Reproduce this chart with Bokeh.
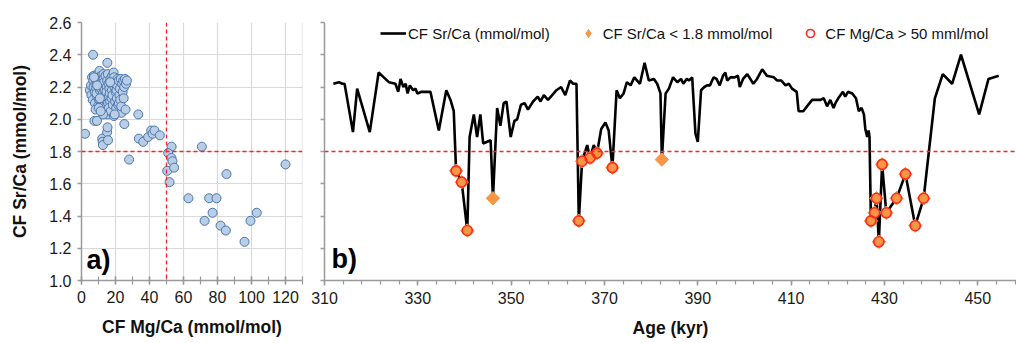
import math

from bokeh.embed import file_html
from bokeh.layouts import row
from bokeh.models import (CustomJSTickFormatter, FixedTicker, Label, Legend,
                          LegendItem, NumeralTickFormatter, Range1d, Span)
from bokeh.plotting import figure
from bokeh.resources import INLINE

FONT = "Liberation Sans"
SR_LIMIT = 1.8   # mmol/mol
MG_LIMIT = 50    # mmol/mol

# ---- a) CF Sr/Ca vs CF Mg/Ca (ten samples per line) ----------------------
mg_cf = [2.1, 6.8, 15.2, 4.9, 5.6, 6.2, 5.8, 6.9, 7.3, 7.1,
         6.6, 7.8, 8.4, 8.1, 7.9, 8.7, 9.2, 9.4, 9.0, 8.8,
         9.6, 9.9, 10.3, 10.6, 10.1, 10.8, 11.2, 10.9, 11.0, 11.7,
         11.4, 12.1, 11.8, 12.3, 12.6, 12.9, 12.2, 13.1, 13.4, 13.0,
         13.6, 13.9, 13.3, 14.2, 14.5, 14.1, 14.8, 14.4, 15.1, 14.7,
         15.6, 15.3, 15.9, 16.2, 15.5, 16.4, 16.8, 16.1, 17.0, 16.6,
         17.3, 17.7, 17.2, 18.1, 17.9, 18.4, 18.7, 18.2, 19.1, 18.9,
         19.4, 19.8, 19.2, 20.1, 20.4, 19.6, 20.8, 21.2, 20.6, 21.5,
         21.0, 21.9, 22.3, 22.0, 22.6, 23.1, 22.8, 23.5, 23.9, 24.2,
         23.4, 24.6, 25.1, 24.8, 25.6, 26.2, 26.7, 25.9, 8.3, 12.7,
         16.9, 10.2, 7.6, 9.1, 11.3, 7.4, 9.2, 10.8, 19.5, 12.2,
         12.4, 12.6, 15.1, 15.3, 15.6, 25.2, 33.4, 33.7, 36.3, 39.2,
         41.0, 41.8, 42.9, 46.1, 28.0, 53.0, 70.8, 50.4, 51.0, 51.8,
         52.9, 53.5, 54.5, 62.9, 72.4, 75.1, 77.1, 79.4, 81.8, 84.9,
         85.3, 95.9, 99.4, 103.1, 120.0]
sr_cf = [1.91, 2.40, 2.35, 2.18, 2.21, 2.26, 2.15, 2.24, 2.27, 2.20,
         2.12, 2.17, 2.25, 2.22, 2.10, 2.19, 2.14, 2.28, 2.23, 2.16,
         2.08, 2.20, 2.12, 2.30, 2.26, 2.18, 2.11, 2.22, 2.06, 2.27,
         2.19, 2.14, 2.09, 2.24, 2.16, 2.28, 2.21, 2.12, 2.05, 2.25,
         2.18, 2.10, 2.23, 2.15, 2.08, 2.27, 2.20, 2.12, 2.24, 2.17,
         2.10, 2.03, 2.22, 2.14, 2.28, 2.19, 2.11, 2.07, 2.25, 2.16,
         2.22, 2.13, 2.05, 2.27, 2.18, 2.09, 2.24, 2.15, 2.02, 2.29,
         2.20, 2.11, 2.26, 2.17, 2.07, 2.22, 2.13, 2.25, 2.18, 2.09,
         2.21, 2.24, 2.15, 2.10, 2.19, 2.25, 2.12, 2.04, 2.22, 2.17,
         2.08, 2.24, 2.20, 2.13, 2.25, 2.22, 2.24, 2.06, 2.06, 2.03,
         2.23, 2.07, 1.99, 1.99, 2.05, 2.26, 2.21, 2.13, 2.03, 1.88,
         1.86, 1.84, 1.92, 1.95, 1.87, 1.97, 2.03, 1.88, 1.86, 1.89,
         1.93, 1.91, 1.93, 1.90, 1.75, 1.83, 1.83, 1.68, 1.79, 1.61,
         1.76, 1.74, 1.70, 1.51, 1.37, 1.51, 1.42, 1.51, 1.34, 1.31,
         1.66, 1.24, 1.37, 1.42, 1.72]

# ---- b) CF Sr/Ca through time --------------------------------------------
age_kyr = [311.9, 313.1, 313.8, 314.3, 316.1, 317.0, 319.7, 321.6, 322.7, 323.8,
           325.2, 325.8, 326.3, 326.9, 327.4, 327.8, 328.3, 329.0, 329.5, 329.9,
           330.8, 332.7, 334.5, 336.1, 337.0, 337.7, 338.2, 339.4, 340.6, 341.1,
           342.0, 342.7, 343.4, 344.0, 345.6, 346.1, 347.0, 347.7, 348.4, 349.0,
           349.9, 350.7, 351.3, 352.1, 352.9, 353.6, 354.7, 355.7, 356.3, 357.0,
           357.9, 358.8, 359.7, 360.7, 361.6, 362.6, 363.3, 364.0, 364.5, 365.2,
           366.3, 366.9, 367.7, 368.4, 369.3, 370.2, 370.9, 371.7, 372.6, 373.3,
           374.1, 374.8, 375.6, 376.4, 377.6, 378.6, 379.5, 380.6, 381.3, 382.0,
           382.3, 383.1, 383.8, 384.7, 385.6, 386.4, 386.9, 387.6, 388.1, 388.8,
           389.5, 390.0, 390.7, 391.4, 392.0, 392.6, 393.4, 394.0, 394.7, 395.4,
           395.9, 396.3, 397.0, 397.9, 398.6, 399.0, 399.7, 400.6, 401.9, 402.7,
           403.8, 404.8, 406.3, 407.0, 407.9, 408.8, 409.5, 410.2, 411.2, 411.6,
           412.6, 413.4, 414.5, 415.4, 416.3, 417.0, 417.7, 418.4, 419.1, 419.5,
           420.1, 421.1, 421.6, 422.2, 423.1, 423.9, 424.5, 425.1, 425.6, 425.9,
           426.3, 426.6, 426.8, 427.1, 427.9, 428.3, 428.8, 429.5, 430.4, 432.6,
           434.5, 436.6, 438.4, 440.8, 442.5, 444.5, 446.4, 450.3, 452.3, 454.5]
sr_age = [2.22, 2.23, 2.22, 2.22, 1.92, 2.19, 1.92, 2.29, 2.26, 2.23,
          2.22, 2.17, 2.25, 2.20, 2.22, 2.16, 2.21, 2.18, 2.19, 2.16,
          2.17, 2.17, 1.93, 2.18, 2.12, 2.05, 1.68, 1.61, 1.31, 1.89,
          2.03, 1.89, 2.03, 1.85, 1.87, 1.51, 2.07, 1.96, 2.10, 2.11,
          1.89, 1.99, 2.00, 2.09, 2.10, 2.06, 2.11, 2.14, 2.11, 2.15,
          2.12, 2.15, 2.18, 2.20, 2.15, 2.24, 2.22, 2.22, 1.37, 1.74,
          1.84, 1.76, 1.84, 1.79, 1.94, 1.98, 1.93, 1.70, 2.18, 2.13,
          2.16, 2.23, 2.21, 2.26, 2.22, 2.35, 2.24, 2.25, 2.22, 2.16,
          1.75, 2.16, 2.19, 2.26, 2.23, 2.25, 2.22, 2.25, 2.24, 2.26,
          1.91, 1.86, 2.18, 2.20, 2.21, 2.21, 2.26, 2.25, 2.21, 2.27,
          2.29, 2.24, 2.26, 2.26, 2.27, 2.20, 2.25, 2.28, 2.22, 2.25,
          2.31, 2.27, 2.26, 2.24, 2.24, 2.21, 2.22, 2.19, 2.17, 2.05,
          2.05, 2.08, 2.12, 2.12, 2.12, 2.13, 2.08, 2.12, 2.07, 2.10,
          2.13, 2.17, 2.14, 2.17, 2.16, 2.13, 2.05, 2.07, 2.03, 1.94,
          1.89, 1.93, 1.89, 1.37, 1.42, 1.51, 1.24, 1.72, 1.42, 1.51,
          1.66, 1.34, 1.51, 2.13, 2.28, 2.22, 2.40, 2.03, 2.25, 2.27]
# Mg/Ca of the samples with Sr/Ca < SR_LIMIT, in age order (nan: not measured)
mg_low = [50.4, 51.8, 84.9, float("nan"), 72.4, 53.5, 52.9, 51.0, 54.5, 28.0,
          99.4, 103.1, 75.1, 95.9, 120.0, 77.1, 79.4, 85.3, 81.8, 62.9]

sr_ticks = [1.0, 1.2, 1.4, 1.6, 1.8, 2.0, 2.2, 2.4, 2.6]
mg_ticks = [0, 20, 40, 60, 80, 100, 120]
age_ticks = [310, 330, 350, 370, 390, 410, 430, 450]

low_idx = [i for i, v in enumerate(sr_age) if v < SR_LIMIT]
low_age = [age_kyr[i] for i in low_idx]
low_sr = [sr_age[i] for i in low_idx]
hi_age = [a for a, m in zip(low_age, mg_low) if m > MG_LIMIT]
hi_sr = [s for s, m in zip(low_sr, mg_low) if m > MG_LIMIT]

AXIS_GREY = "#9a9a9a"
DASH_RED = "#ff2020"
ORANGE = "#f79646"


def style_axis(ax):
    ax.axis_line_color = AXIS_GREY
    ax.axis_line_width = 1.5
    ax.major_tick_line_color = AXIS_GREY
    ax.minor_tick_line_color = AXIS_GREY
    ax.major_tick_line_width = 1.5
    ax.minor_tick_line_width = 1.2
    ax.major_label_text_font = FONT
    ax.major_label_text_font_size = "16px"
    ax.major_label_text_color = "#1a1a1a"
    ax.axis_label_text_font = FONT
    ax.axis_label_text_font_size = "17.5px"
    ax.axis_label_text_font_style = "bold"
    ax.axis_label_text_color = "#111111"


def threshold(loc, dim):
    return Span(location=loc, dimension=dim, line_color=DASH_RED,
                line_width=1.3, line_dash="4 3", level="overlay")


# ---- panel a ----
p1 = figure(frame_width=221, frame_height=258, min_border_left=81,
            min_border_right=8, min_border_top=22, min_border_bottom=63,
            x_range=Range1d(0, 130), y_range=Range1d(1.0, 2.6),
            output_backend="svg", toolbar_location=None)
p1.outline_line_color = None

p1.xaxis.ticker = FixedTicker(ticks=mg_ticks, minor_ticks=list(range(0, 131, 10)))
p1.yaxis.ticker = FixedTicker(ticks=sr_ticks, minor_ticks=[])
p1.yaxis.formatter = NumeralTickFormatter(format="0.0")
p1.xaxis.axis_label = "CF Mg/Ca (mmol/mol)"
p1.yaxis.axis_label = "CF Sr/Ca (mmol/mol)"
for ax in (p1.xaxis[0], p1.yaxis[0]):
    style_axis(ax)
p1.xaxis.major_tick_in = 4
p1.xaxis.major_tick_out = 4
p1.xaxis.minor_tick_in = 4
p1.xaxis.minor_tick_out = 4
p1.xaxis.major_label_standoff = 6
p1.xaxis.axis_label_standoff = 11
p1.yaxis.major_tick_in = 0
p1.yaxis.major_tick_out = 4
p1.yaxis.major_label_standoff = 6
p1.yaxis.axis_label_standoff = 16

p1.xgrid.grid_line_color = "#d9d9d9"
p1.ygrid.grid_line_color = "#d9d9d9"
p1.xgrid.grid_line_width = 1.2
p1.ygrid.grid_line_width = 1.2
p1.add_layout(Span(location=130, dimension="height", line_color="#d9d9d9",
                   line_width=1.2, level="underlay"))

p1.scatter(mg_cf, sr_cf, marker="circle", size=9, fill_color="#b9cde5",
           line_color="#4a76ad", line_width=1)
p1.add_layout(threshold(SR_LIMIT, "width"))
p1.add_layout(threshold(MG_LIMIT, "height"))

p1.add_layout(Label(x=5, y=6, x_units="screen", y_units="screen", text="a)",
                    text_font=FONT, text_font_size="27px",
                    text_font_style="bold", text_color="black"))

# ---- panel b ----
p2 = figure(frame_width=692, frame_height=258, min_border_left=14,
            min_border_right=0, min_border_top=22, min_border_bottom=63,
            x_range=Range1d(310, 458.3), y_range=Range1d(1.0, 2.6),
            output_backend="svg", toolbar_location=None)
p2.outline_line_color = None
p2.xgrid.grid_line_color = None
p2.ygrid.grid_line_color = None

p2.xaxis.ticker = FixedTicker(ticks=age_ticks,
                              minor_ticks=list(range(310, 459, 4)))
p2.yaxis.ticker = FixedTicker(ticks=sr_ticks, minor_ticks=[])
p2.yaxis.formatter = CustomJSTickFormatter(code="return ''")
p2.xaxis.axis_label = "Age (kyr)"
for ax in (p2.xaxis[0], p2.yaxis[0]):
    style_axis(ax)
p2.xaxis.major_tick_in = 0
p2.xaxis.major_tick_out = 5
p2.xaxis.minor_tick_in = 0
p2.xaxis.minor_tick_out = 4
p2.xaxis.major_label_standoff = 6
p2.xaxis.axis_label_standoff = 11
p2.yaxis.major_tick_in = 0
p2.yaxis.major_tick_out = 4
p2.yaxis.major_label_standoff = 0

p2.add_layout(threshold(SR_LIMIT, "width"))

line_r = p2.line(age_kyr, sr_age, line_color="black", line_width=2.6)
# diamond key, drawn beneath the larger 45-degree squares so only the legend shows it
key_r = p2.scatter(low_age, low_sr, marker="diamond", size=12,
                   fill_color=ORANGE, line_color=ORANGE)
p2.scatter(low_age, low_sr, marker="square", angle=math.pi / 4,
           size=9.5, fill_color=ORANGE, line_color=ORANGE)
ring_r = p2.scatter(hi_age, hi_sr, marker="circle", size=10, fill_color=None,
                    line_color="#ff2a1a", line_width=1.6)

p2.add_layout(Label(x=7, y=7, x_units="screen", y_units="screen", text="b)",
                    text_font=FONT, text_font_size="27px",
                    text_font_style="bold", text_color="black"))

legend = Legend(items=[
    LegendItem(label="CF Sr/Ca (mmol/mol)", renderers=[line_r]),
    LegendItem(label="CF Sr/Ca < 1.8 mmol/mol", renderers=[key_r]),
    LegendItem(label="CF Mg/Ca > 50 mml/mol", renderers=[ring_r]),
], orientation="horizontal", location=(56, 237), padding=0, margin=0,
    spacing=25, glyph_width=26, glyph_height=20, label_standoff=2,
    label_text_font=FONT, label_text_font_size="15px",
    label_text_color="#111111", border_line_color=None,
    background_fill_alpha=0)
p2.add_layout(legend)

layout = row(p1, p2)
open("out.html", "w").write(file_html(layout, INLINE))
